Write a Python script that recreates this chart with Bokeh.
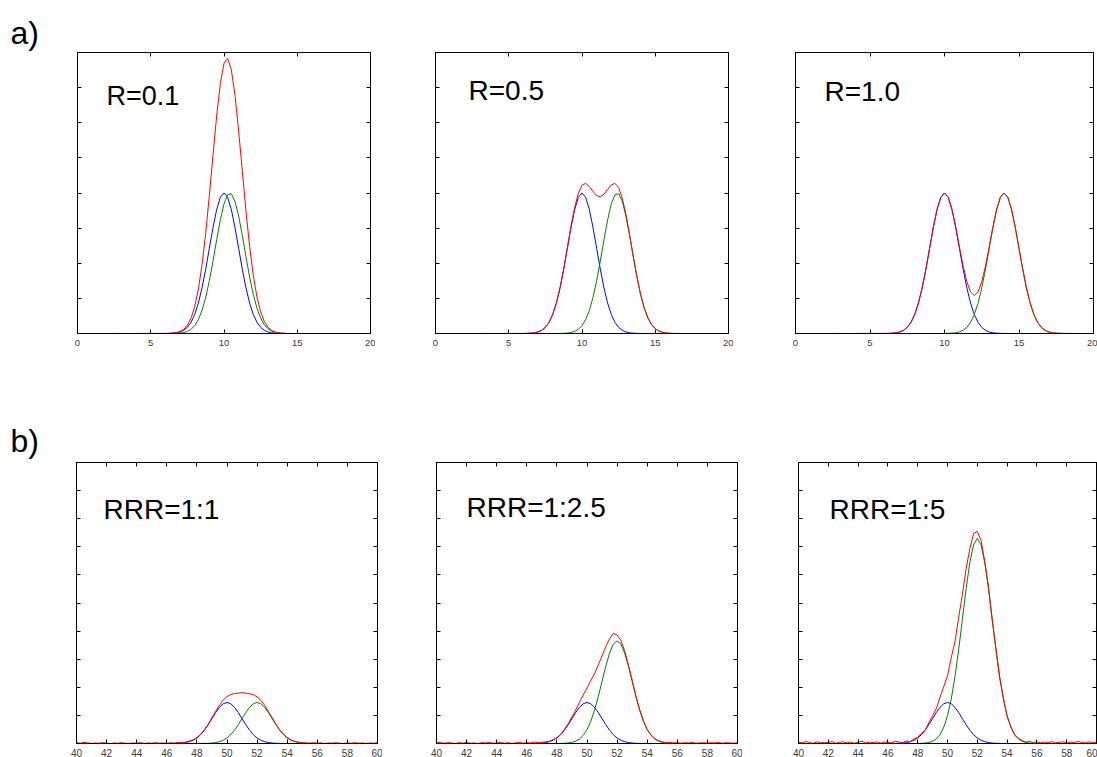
from bokeh.plotting import figure
from bokeh.models import Range1d, LinearAxis, FixedTicker, Label, Title
from bokeh.layouts import column, row
from bokeh.embed import file_html
from bokeh.resources import INLINE

# ---------------------------------------------------------------- data
# a) two equal peaks, first fixed at t=10, second moved to give resolution R
A_X = [0,
       6.0, 6.25, 6.5, 6.75, 7.0, 7.25, 7.5, 7.75,
       8.0, 8.25, 8.5, 8.75, 9.0, 9.25, 9.5, 9.75,
       10.0, 10.25, 10.5, 10.75, 11.0, 11.25, 11.5, 11.75,
       12.0, 12.25, 12.5, 12.75, 13.0, 13.25, 13.5, 13.75,
       14.0, 14.25, 14.5, 14.75, 15.0, 15.25, 15.5, 15.75,
       16.0, 16.25, 16.5, 16.75, 17.0, 17.25, 17.5, 17.75,
       18.0, 20]

A_PEAK1 = [0,
           0.001, 0.004, 0.009, 0.020, 0.044, 0.091, 0.176, 0.318,
           0.541, 0.865, 1.298, 1.831, 2.426, 3.019, 3.530, 3.877,
           4.000, 3.877, 3.530, 3.019, 2.426, 1.831, 1.298, 0.865,
           0.541, 0.318, 0.176, 0.091, 0.044, 0.020, 0.009, 0.004,
           0.001, 0, 0, 0, 0, 0, 0, 0,
           0, 0, 0, 0, 0, 0, 0, 0,
           0, 0]

A_PEAK2_R01 = [0,
               0.000, 0.001, 0.002, 0.005, 0.012, 0.028, 0.060, 0.119,
               0.224, 0.397, 0.657, 1.023, 1.502, 2.063, 2.669, 3.237,
               3.692, 3.955, 3.980, 3.762, 3.341, 2.789, 2.184, 1.610,
               1.110, 0.721, 0.441, 0.253, 0.136, 0.069, 0.033, 0.015,
               0.006, 0.002, 0.001, 0, 0, 0, 0, 0,
               0, 0, 0, 0, 0, 0, 0, 0,
               0, 0]

A_SUM_R01 = [0,
             0.001, 0.005, 0.011, 0.025, 0.056, 0.119, 0.236, 0.437,
             0.765, 1.262, 1.955, 2.854, 3.928, 5.082, 6.199, 7.114,
             7.692, 7.832, 7.510, 6.781, 5.767, 4.620, 3.482, 2.475,
             1.651, 1.039, 0.617, 0.344, 0.180, 0.089, 0.042, 0.019,
             0.007, 0.002, 0.001, 0, 0, 0, 0, 0,
             0, 0, 0, 0, 0, 0, 0, 0,
             0, 0]

A_PEAK2_R05 = [0,
               0, 0, 0, 0, 0, 0, 0, 0,
               0, 0.001, 0.002, 0.005, 0.012, 0.028, 0.060, 0.119,
               0.224, 0.397, 0.657, 1.023, 1.502, 2.063, 2.669, 3.237,
               3.692, 3.955, 3.980, 3.762, 3.341, 2.789, 2.184, 1.610,
               1.110, 0.721, 0.441, 0.253, 0.136, 0.069, 0.033, 0.015,
               0.006, 0.002, 0.001, 0, 0, 0, 0, 0,
               0, 0]

A_SUM_R05 = [0,
             0.001, 0.004, 0.009, 0.020, 0.044, 0.091, 0.176, 0.318,
             0.541, 0.866, 1.300, 1.836, 2.438, 3.047, 3.590, 3.996,
             4.224, 4.274, 4.187, 4.042, 3.928, 3.894, 3.967, 4.102,
             4.233, 4.273, 4.156, 3.853, 3.385, 2.809, 2.193, 1.614,
             1.111, 0.721, 0.441, 0.253, 0.136, 0.069, 0.033, 0.015,
             0.006, 0.002, 0.001, 0, 0, 0, 0, 0,
             0, 0]

A_PEAK2_R10 = [0,
               0, 0, 0, 0, 0, 0, 0, 0,
               0, 0, 0, 0, 0, 0, 0, 0,
               0.001, 0.004, 0.009, 0.020, 0.044, 0.091, 0.176, 0.318,
               0.541, 0.865, 1.298, 1.831, 2.426, 3.019, 3.530, 3.877,
               4.000, 3.877, 3.530, 3.019, 2.426, 1.831, 1.298, 0.865,
               0.541, 0.318, 0.176, 0.091, 0.044, 0.020, 0.009, 0.004,
               0.001, 0]

A_SUM_R10 = [0,
             0.001, 0.004, 0.009, 0.020, 0.044, 0.091, 0.176, 0.318,
             0.541, 0.865, 1.298, 1.831, 2.426, 3.019, 3.530, 3.877,
             4.001, 3.881, 3.539, 3.039, 2.470, 1.922, 1.474, 1.183,
             1.082, 1.183, 1.474, 1.922, 2.470, 3.039, 3.539, 3.881,
             4.001, 3.877, 3.530, 3.019, 2.426, 1.831, 1.298, 0.865,
             0.541, 0.318, 0.176, 0.091, 0.044, 0.020, 0.009, 0.004,
             0.001, 0]

A_XTICKS = [0, 5, 10, 15, 20]
A_YTICKS = [1, 2, 3, 4, 5, 6, 7]
A_TITLES = ["R=0.1", "R=0.5", "R=1.0"]

# b) two peaks at t=50 and t=52 with peak ratio RRR; the measured sum is noisy
B_X = [40.0, 40.25, 40.5, 40.75, 41.0, 41.25, 41.5, 41.75,
       42.0, 42.25, 42.5, 42.75, 43.0, 43.25, 43.5, 43.75,
       44.0, 44.25, 44.5, 44.75, 45.0, 45.25, 45.5, 45.75,
       46.0, 46.25, 46.5, 46.75, 47.0, 47.25, 47.5, 47.75,
       48.0, 48.25, 48.5, 48.75, 49.0, 49.25, 49.5, 49.75,
       50.0, 50.25, 50.5, 50.75, 51.0, 51.25, 51.5, 51.75,
       52.0, 52.25, 52.5, 52.75, 53.0, 53.25, 53.5, 53.75,
       54.0, 54.25, 54.5, 54.75, 55.0, 55.25, 55.5, 55.75,
       56.0, 56.25, 56.5, 56.75, 57.0, 57.25, 57.5, 57.75,
       58.0, 58.25, 58.5, 58.75, 59.0, 59.25, 59.5, 59.75,
       60.0]

B_PEAK1 = [0, 0, 0, 0, 0, 0, 0, 0,
           0, 0, 0, 0, 0, 0, 0, 0,
           0, 0, 0, 0, 0, 0, 0, 0,
           0.000, 0.001, 0.003, 0.007, 0.016, 0.033, 0.064, 0.116,
           0.198, 0.316, 0.474, 0.668, 0.885, 1.102, 1.288, 1.415,
           1.460, 1.415, 1.288, 1.102, 0.885, 0.668, 0.474, 0.316,
           0.198, 0.116, 0.064, 0.033, 0.016, 0.007, 0.003, 0.001,
           0.000, 0, 0, 0, 0, 0, 0, 0,
           0, 0, 0, 0, 0, 0, 0, 0,
           0, 0, 0, 0, 0, 0, 0, 0,
           0]

B_PEAK2_11 = [0, 0, 0, 0, 0, 0, 0, 0,
              0, 0, 0, 0, 0, 0, 0, 0,
              0, 0, 0, 0, 0, 0, 0, 0,
              0, 0, 0, 0, 0, 0, 0, 0,
              0.000, 0.001, 0.003, 0.007, 0.016, 0.033, 0.064, 0.116,
              0.198, 0.316, 0.474, 0.668, 0.885, 1.102, 1.288, 1.415,
              1.460, 1.415, 1.288, 1.102, 0.885, 0.668, 0.474, 0.316,
              0.198, 0.116, 0.064, 0.033, 0.016, 0.007, 0.003, 0.001,
              0.000, 0, 0, 0, 0, 0, 0, 0,
              0, 0, 0, 0, 0, 0, 0, 0,
              0]

B_SIGNAL_11 = [0.03, 0.01, 0.04, 0.02, 0.00, 0.02, 0.01, 0.03,
               0.01, 0.00, 0.02, 0.01, 0.03, 0.01, 0.00, 0.02,
               0.01, 0.03, 0.00, 0.02, 0.01, 0.03, 0.01, 0.02,
               0.00, 0.03, 0.01, 0.04, 0.03, 0.05, 0.09, 0.13,
               0.21, 0.33, 0.49, 0.68, 0.92, 1.15, 1.36, 1.55,
               1.67, 1.74, 1.78, 1.79, 1.81, 1.79, 1.77, 1.74,
               1.66, 1.54, 1.36, 1.14, 0.92, 0.69, 0.49, 0.33,
               0.21, 0.13, 0.08, 0.05, 0.03, 0.02, 0.01, 0.03,
               0.01, 0.02, 0.00, 0.02, 0.01, 0.03, 0.01, 0.00,
               0.02, 0.01, 0.03, 0.01, 0.02, 0.00, 0.02, 0.01,
               0.03]

B_PEAK2_125 = [0, 0, 0, 0, 0, 0, 0, 0,
               0, 0, 0, 0, 0, 0, 0, 0,
               0, 0, 0, 0, 0, 0, 0, 0,
               0, 0, 0, 0, 0, 0, 0, 0,
               0.001, 0.003, 0.008, 0.019, 0.041, 0.083, 0.160, 0.291,
               0.494, 0.789, 1.185, 1.671, 2.214, 2.755, 3.221, 3.538,
               3.650, 3.538, 3.221, 2.755, 2.214, 1.671, 1.185, 0.789,
               0.494, 0.291, 0.160, 0.083, 0.041, 0.019, 0.008, 0.003,
               0.001, 0, 0, 0, 0, 0, 0, 0,
               0, 0, 0, 0, 0, 0, 0, 0,
               0]

B_SIGNAL_125 = [0.02, 0.04, 0.01, 0.03, 0.02, 0.00, 0.03, 0.01,
                0.04, 0.01, 0.02, 0.00, 0.03, 0.02, 0.04, 0.01,
                0.02, 0.04, 0.01, 0.03, 0.00, 0.02, 0.04, 0.01,
                0.03, 0.02, 0.05, 0.03, 0.04, 0.06, 0.08, 0.14,
                0.21, 0.33, 0.50, 0.70, 0.95, 1.19, 1.47, 1.73,
                1.97, 2.24, 2.48, 2.80, 3.12, 3.45, 3.73, 3.92,
                3.86, 3.67, 3.30, 2.80, 2.26, 1.69, 1.20, 0.81,
                0.50, 0.31, 0.18, 0.10, 0.06, 0.03, 0.04, 0.02,
                0.03, 0.01, 0.03, 0.02, 0.04, 0.01, 0.02, 0.03,
                0.01, 0.03, 0.02, 0.04, 0.01, 0.03, 0.02, 0.01,
                0.03]

B_PEAK2_15 = [0, 0, 0, 0, 0, 0, 0, 0,
              0, 0, 0, 0, 0, 0, 0, 0,
              0, 0, 0, 0, 0, 0, 0, 0,
              0, 0, 0, 0, 0, 0, 0, 0,
              0.002, 0.007, 0.016, 0.037, 0.081, 0.166, 0.320, 0.581,
              0.988, 1.579, 2.370, 3.342, 4.427, 5.510, 6.442, 7.075,
              7.300, 7.075, 6.442, 5.510, 4.427, 3.342, 2.370, 1.579,
              0.988, 0.581, 0.320, 0.166, 0.081, 0.037, 0.016, 0.007,
              0.002, 0, 0, 0, 0, 0, 0, 0,
              0, 0, 0, 0, 0, 0, 0, 0,
              0]

B_SIGNAL_15 = [0.05, 0.02, 0.07, 0.03, 0.01, 0.06, 0.02, 0.04,
               0.03, 0.07, 0.01, 0.04, 0.06, 0.02, 0.05, 0.01,
               0.04, 0.08, 0.02, 0.05, 0.03, 0.06, 0.01, 0.05,
               0.04, 0.02, 0.08, 0.05, 0.03, 0.09, 0.07, 0.16,
               0.22, 0.36, 0.47, 0.74, 0.99, 1.24, 1.65, 2.03,
               2.41, 3.05, 3.62, 4.49, 5.30, 6.22, 6.93, 7.47,
               7.55, 7.23, 6.48, 5.58, 4.40, 3.38, 2.35, 1.62,
               0.97, 0.61, 0.30, 0.19, 0.11, 0.05, 0.08, 0.03,
               0.06, 0.02, 0.05, 0.03, 0.07, 0.02, 0.04, 0.06,
               0.02, 0.05, 0.03, 0.07, 0.04, 0.02, 0.06, 0.03,
               0.05]

B_XTICKS = [40, 42, 44, 46, 48, 50, 52, 54, 56, 58, 60]
B_YTICKS = [1, 2, 3, 4, 5, 6, 7, 8, 9]
B_TITLES = ["RRR=1:1", "RRR=1:2.5", "RRR=1:5"]

PART_LETTERS = ["a)", "b)"]

# ---------------------------------------------------------------- styling
FONT = "Liberation Sans"
RED, BLUE, GREEN = "#ff0000", "#0000ff", "#008000"
FRAME_H = 281


def tick_axis(ticks, labelled, label_size="10px", standoff=5):
    ax = LinearAxis(ticker=FixedTicker(ticks=ticks, minor_ticks=[]),
                    major_tick_in=4, major_tick_out=0,
                    major_tick_line_color="black", axis_line_color="black",
                    minor_tick_line_color=None)
    if labelled:
        ax.major_label_text_font = FONT
        ax.major_label_text_font_size = label_size
        ax.major_label_text_color = "#3a3a3a"
        ax.major_label_standoff = standoff
    else:
        ax.major_label_overrides = {t: "" for t in ticks}
        ax.major_label_text_color = None
        ax.major_label_text_font_size = "1px"
        ax.major_label_standoff = 0
    return ax


def panel(x_rng, y_rng, x_ticks, y_ticks, frame_w, left, right, top, bottom,
          label_size, standoff):
    p = figure(frame_width=frame_w, frame_height=FRAME_H,
               x_range=Range1d(*x_rng), y_range=Range1d(*y_rng),
               x_axis_location=None, y_axis_location=None, title=None,
               output_backend="svg", toolbar_location=None,
               min_border_left=left, min_border_right=right,
               min_border_top=top, min_border_bottom=bottom,
               background_fill_color="white", border_fill_color="white",
               outline_line_color="black", outline_line_width=1)
    p.xgrid.visible = False
    p.ygrid.visible = False
    p.add_layout(tick_axis(x_ticks, True, label_size, standoff), "below")
    p.add_layout(tick_axis(x_ticks, False), "above")
    p.add_layout(tick_axis(y_ticks, False), "left")
    p.add_layout(tick_axis(y_ticks, False), "right")
    return p


def curves(p, x, first, second, total):
    p.line(x, first, line_color=BLUE, line_width=1)
    p.line(x, second, line_color=GREEN, line_width=1)
    p.line(x, total, line_color=RED, line_width=1)


def caption(p, text, dx, dy, size="28px"):
    p.add_layout(Label(x=dx, y=dy, x_units="screen", y_units="screen",
                       text=text, text_font=FONT, text_font_size=size,
                       text_color="black", text_baseline="alphabetic"))


def part_letter(p, text, left_shift, standoff):
    # placed in the border above the first panel of a row
    p.add_layout(Title(text=text, align="left", offset=-left_shift,
                       standoff=standoff, text_font=FONT,
                       text_font_size="32px", text_font_style="normal",
                       text_color="black"), "above")


# ---------------------------------------------------------------- row a
a_geom = [(293, 77, 5), (293, 60, 5), (298, 62, 4)]
a_second = [A_PEAK2_R01, A_PEAK2_R05, A_PEAK2_R10]
a_total = [A_SUM_R01, A_SUM_R05, A_SUM_R10]
a_caption_pos = [(29, 238, "27px"), (33, 243, "28px"), (29, 242, "28px")]
row_a = []
for i in range(3):
    w, l, r = a_geom[i]
    p = panel((0, 20), (0, 8), A_XTICKS, A_YTICKS, w, l, r, 52, 60,
              "9.5px", 6)
    curves(p, A_X, A_PEAK1, a_second[i], a_total[i])
    cx, cy, cs = a_caption_pos[i]
    caption(p, A_TITLES[i], cx, cy, cs)
    row_a.append(p)
part_letter(row_a[0], PART_LETTERS[0], 67, 4)

# ---------------------------------------------------------------- row b
b_geom = [(301, 76, 5), (301, 54, 5), (298, 56, 1)]
b_second = [B_PEAK2_11, B_PEAK2_125, B_PEAK2_15]
b_total = [B_SIGNAL_11, B_SIGNAL_125, B_SIGNAL_15]
b_caption_pos = [(27, 234), (30, 236), (31, 234)]
row_b = []
for i in range(3):
    w, l, r = b_geom[i]
    p = panel((40, 60), (0, 10), B_XTICKS, B_YTICKS, w, l, r, 69, 14,
              "10px", 5)
    curves(p, B_X, B_PEAK1, b_second[i], b_total[i])
    cx, cy = b_caption_pos[i]
    caption(p, B_TITLES[i], cx, cy)
    row_b.append(p)
part_letter(row_b[0], PART_LETTERS[1], 66, 8)

layout = column(row(*row_a), row(*row_b))
open("out.html", "w").write(file_html(layout, INLINE))
